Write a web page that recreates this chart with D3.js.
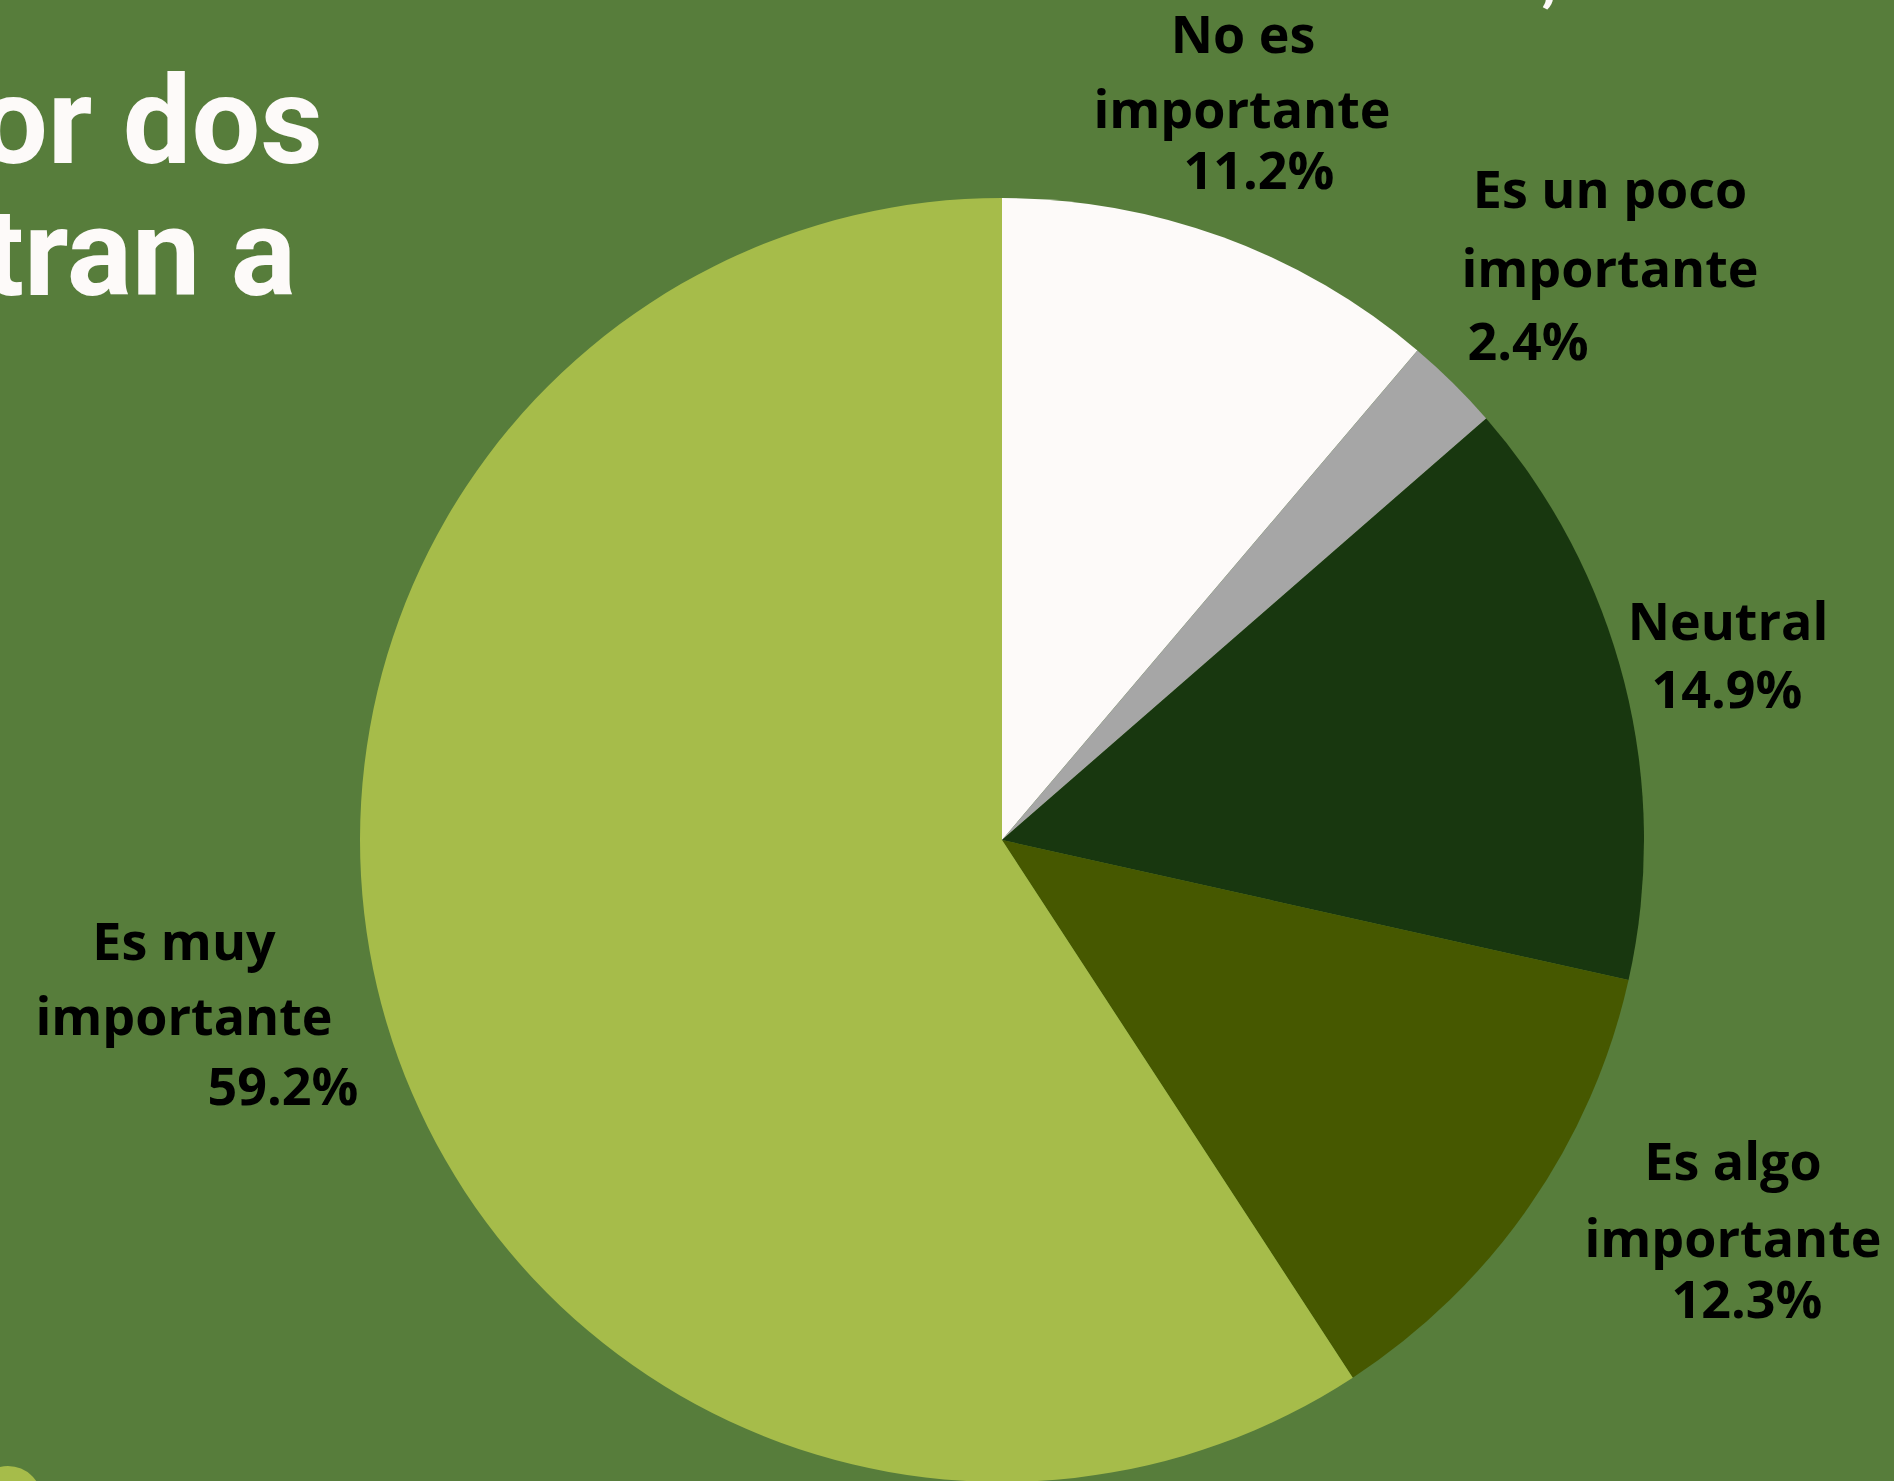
<!DOCTYPE html>
<html>
<head>
<meta charset="utf-8">
<script src="https://cdn.jsdelivr.net/npm/d3@7"></script>
<style>
  html, body { margin: 0; padding: 0; background: #577D3B; overflow: hidden; }
  svg { display: block; }
</style>
</head>
<body>
<svg id="chart" width="1894" height="1481"></svg>
<script>
// ---- data ----
const categories = ["No es importante", "Es un poco importante", "Neutral", "Es algo importante", "Es muy importante"];
const values = [11.2, 2.4, 14.9, 12.3, 59.2];
const labelNames = [["No es", "importante"], ["Es un poco", "importante"], ["Neutral"], ["Es algo", "importante"], ["Es muy", "importante"]];
const titleLines = ["por dos", "tran a"];
const topFragment = ["s,", "o"];

// ---- styles / layout (not data) ----
const sliceColors = ["#FDFAF9", "#A6A6A6", "#18370F", "#465800", "#A6BC4A"];
const bg = "#577D3B";
const W = 1894, H = 1481;
const cx = 1002, cy = 840, R = 642;
// label line centers and baselines (name lines..., percent line)
const labelLayout = [
  [[1243, 53], [1242, 128], [1259, 189]],
  [[1610, 208], [1610, 287], [1528, 360]],
  [[1728, 640], [1727, 708]],
  [[1733, 1180], [1733, 1257], [1747, 1318]],
  [[184, 960], [184, 1035], [283, 1105]]
];

const svg = d3.select("#chart");
svg.append("rect").attr("width", W).attr("height", H).attr("fill", bg);

// bottom-left decorative blob
svg.append("circle").attr("cx", 8).attr("cy", 1500).attr("r", 34).attr("fill", "#A6BC4A");

// title (clipped off-canvas on the left)
const title = svg.append("g")
  .attr("font-family", "Roboto, 'Open Sans', sans-serif")
  .attr("font-weight", 700)
  .attr("font-size", 122)
  .attr("fill", "#FDFAF9")
  .attr("text-anchor", "end");
const titlePos = [[323, 163], [296, 295]];
titleLines.forEach((t, i) => {
  title.append("text").attr("x", titlePos[i][0]).attr("y", titlePos[i][1]).text(t);
});

// fragment of a text line cut off at the top edge
const frag = svg.append("text")
  .attr("y", -1)
  .attr("font-family", "Roboto, sans-serif")
  .attr("font-weight", 700)
  .attr("font-size", 60)
  .attr("fill", "#FDFAF9");
frag.append("tspan").attr("x", 1511).text(topFragment[0]);
frag.append("tspan").attr("x", 1596).text(topFragment[1]);

// pie
const pie = d3.pie().sort(null).value(d => d).startAngle(0).endAngle(2 * Math.PI);
const arc = d3.arc().innerRadius(0).outerRadius(R);
const arcs = pie(values);

const color = d3.scaleOrdinal().domain(categories).range(sliceColors);

svg.append("g")
  .attr("transform", `translate(${cx},${cy})`)
  .selectAll("path")
  .data(arcs)
  .join("path")
  .attr("d", arc)
  .attr("fill", (d, i) => color(categories[i]));

// labels
const fmt = d3.format(".1f");
const lab = svg.append("g")
  .attr("font-family", "'Open Sans', sans-serif")
  .attr("font-weight", 700)
  .attr("font-size", 52)
  .attr("fill", "#000")
  .attr("text-anchor", "middle");

categories.forEach((c, i) => {
  const lines = labelNames[i].concat([fmt(values[i]) + "%"]);
  const pos = labelLayout[i];
  const t = lab.append("text");
  lines.forEach((ln, j) => {
    t.append("tspan").attr("x", pos[j][0]).attr("y", pos[j][1]).text(ln);
  });
});
</script>
</body>
</html>
